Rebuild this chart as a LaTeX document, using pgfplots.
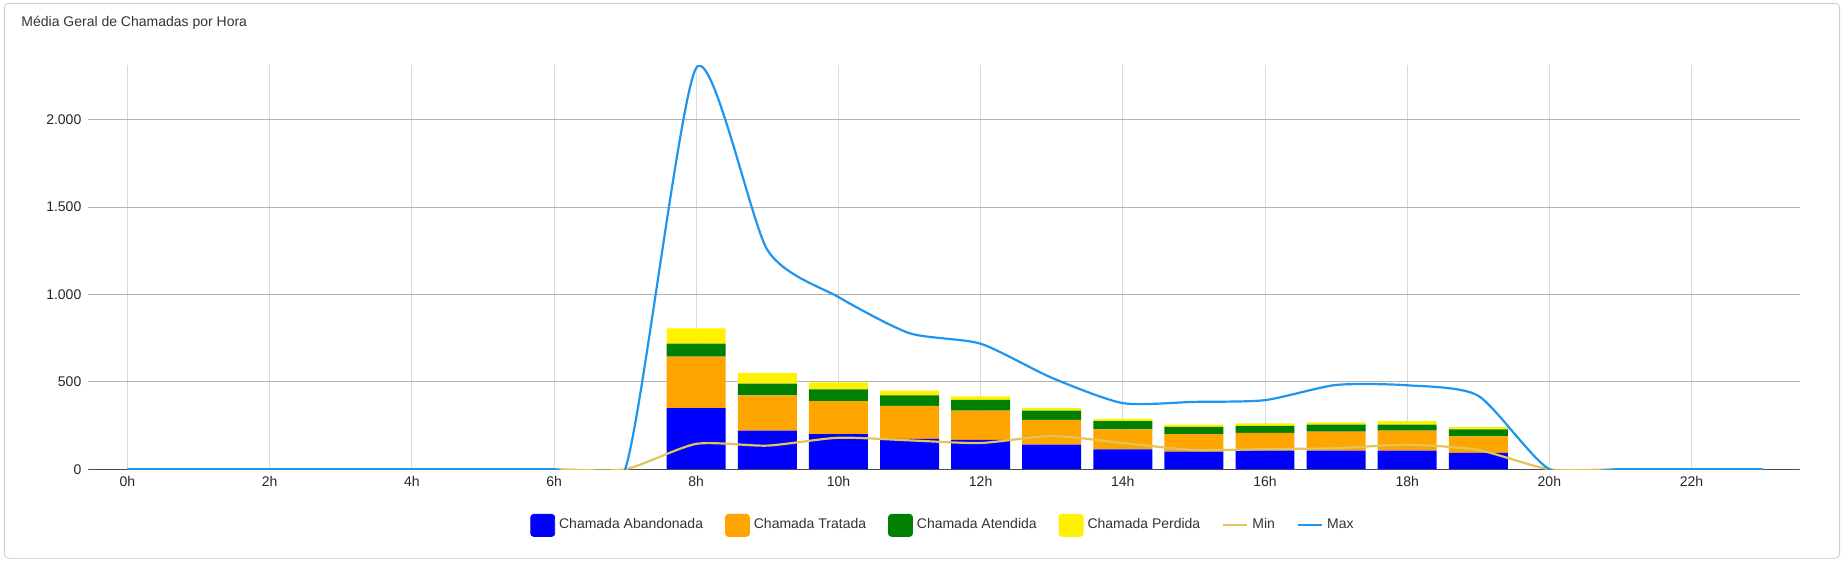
\documentclass[border=0pt]{standalone}
\usepackage{pgfplots}
\pgfplotsset{compat=1.18}
\usepackage{fontspec}
\setmainfont{Liberation Sans}
\definecolor{cmax}{HTML}{1E96F0}
\definecolor{cmin}{HTML}{E3C45A}
\definecolor{corange}{HTML}{FFA500}
\definecolor{cgreen}{HTML}{008000}
\pgfplotsset{base/.style={at={(44pt,-234.5pt)},anchor=south west,scale only axis,
 width=856pt,height=202pt,xmin=-0.55,xmax=23.52,ymin=0,ymax=2310,
 axis line style={draw=none},tick style={draw=none}}}
\begin{document}
\begin{tikzpicture}[font=\fontsize{7}{8}\selectfont]
\draw[white] (0,0) rectangle (922pt,-281.5pt);
\draw[black!20,rounded corners=2pt] (2pt,-1.5pt) rectangle (920pt,-279pt);
\node[anchor=west,text=black!80] at (7pt,-11pt) {Média Geral de Chamadas por Hora};
\begin{axis}[base,
 xtick={0,2,...,22},xticklabels={0h,2h,4h,6h,8h,10h,12h,14h,16h,18h,20h,22h},
 ytick={0,500,1000,1500,2000},
 /pgf/number format/.cd,1000 sep={.},assume math mode=true,/pgfplots/.cd,
 xmajorgrids,ymajorgrids,grid style={black!15},
 y grid style={black!30},
 ticklabel style={text=black!85},
 ybar stacked,bar width=29.5pt,
]
\addplot[fill=blue,draw=none] coordinates {(8,349)(9,221)(10,201)(11,174)(12,168)(13,141)(14,114)(15,100)(16,107)(17,107)(18,107)(19,94)};
\addplot[fill=corange,draw=none] coordinates {(8,295)(9,202)(10,188)(11,188)(12,167)(13,141)(14,114)(15,101)(16,101)(17,108)(18,114)(19,94)};
\addplot[fill=cgreen,draw=none] coordinates {(8,74)(9,67)(10,67)(11,61)(12,61)(13,53)(14,47)(15,41)(16,40)(17,40)(18,34)(19,40)};
\addplot[fill=yellow,draw=none] coordinates {(8,87)(9,60)(10,41)(11,27)(12,20)(13,14)(14,13)(15,13)(16,14)(17,13)(18,20)(19,13)};
\draw[black!70,line width=0.6pt] (axis cs:-0.55,0) -- (axis cs:23.52,0);
\end{axis}
\begin{axis}[base,xtick=\empty,ytick=\empty,
 legend style={at={(0.5,-0.1)},anchor=north,draw=none,legend columns=-1,
   /tikz/every even column/.append style={column sep=9pt},font=\fontsize{7}{8}\selectfont,text=black!80},
 legend image code/.code={\draw[#1,line width=1.1pt](0pt,0pt)--(12pt,0pt);},
]
\addlegendimage{legend image code/.code={\fill[blue,rounded corners=1.5pt] (0pt,-5.5pt) rectangle (12pt,5.5pt);}}
\addlegendentry{Chamada Abandonada}
\addlegendimage{legend image code/.code={\fill[corange,rounded corners=1.5pt] (0pt,-5.5pt) rectangle (12pt,5.5pt);}}
\addlegendentry{Chamada Tratada}
\addlegendimage{legend image code/.code={\fill[cgreen,rounded corners=1.5pt] (0pt,-5.5pt) rectangle (12pt,5.5pt);}}
\addlegendentry{Chamada Atendida}
\addlegendimage{legend image code/.code={\fill[yellow,rounded corners=1.5pt] (0pt,-5.5pt) rectangle (12pt,5.5pt);}}
\addlegendentry{Chamada Perdida}
\addplot[cmin,line width=1.1pt,smooth,tension=0.4]
 coordinates {(0,0)(1,0)(2,0)(3,0)(4,0)(5,0)(6,0)(7,0)(8,145)(9,135)(10,180)(11,165)(12,150)(13,190)(14,150)(15,110)(16,115)(17,120)(18,140)(19,110)(20,0)(21,0)(22,0)(23,0)};
\addlegendentry{Min}
\addplot[cmax,line width=1.1pt,smooth,tension=0.4]
 coordinates {(0,0)(1,0)(2,0)(3,0)(4,0)(5,0)(6,0)(7,0)(8,2295)(9,1255)(10,985)(11,778)(12,718)(13,523)(14,378)(15,385)(16,395)(17,482)(18,480)(19,420)(20,0)(21,0)(22,0)(23,0)};
\addlegendentry{Max}
\end{axis}
\end{tikzpicture}
\end{document}
